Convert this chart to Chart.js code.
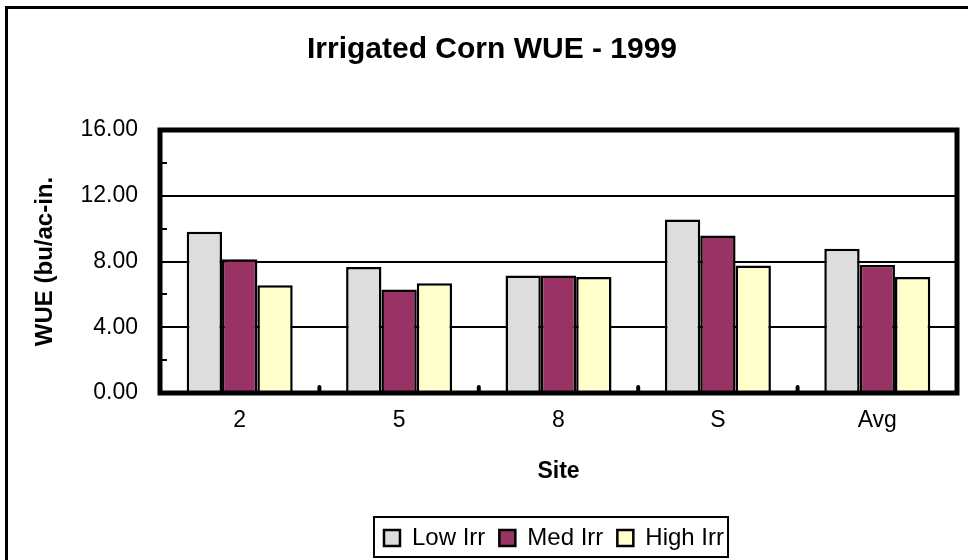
<!DOCTYPE html>
<html>
<head>
<meta charset="utf-8">
<title>Irrigated Corn WUE - 1999</title>
<script src="https://cdn.jsdelivr.net/npm/chart.js@4"></script>
<style>
  html, body { margin: 0; padding: 0; background: #fff; }
  #wrap { position: relative; width: 968px; height: 560px; }
</style>
</head>
<body>
<div id="wrap"><canvas id="wue"></canvas></div>
<script>
  const sites = ['2', '5', '8', 'S', 'Avg'];
  const lowIrr = [9.81, 7.66, 7.15, 10.55, 8.77];
  const medIrr = [8.14, 6.30, 7.15, 9.58, 7.78];
  const highIrr = [6.55, 6.67, 7.05, 7.76, 7.05];
  const yTicks = [0, 4, 8, 12, 16];
  const yMinorTicks = [2, 6, 10, 14];

  const FONT = "'Liberation Sans', Arial, sans-serif";
  const LEGEND_SHIFT = 62; // legend sits right of centre in the original

  // nudge the legend to the right after layout
  const legendShift = {
    id: 'legendShift',
    afterLayout(chart) {
      const lg = chart.legend;
      if (!lg) return;
      lg.left += LEGEND_SHIFT;
      lg.right += LEGEND_SHIFT;
      (lg.legendHitBoxes || []).forEach((b) => { b.left += LEGEND_SHIFT; });
    },
  };

  // frame round the plot, inner tick marks, legend box and the outer border
  const decorations = {
    id: 'decorations',
    afterDraw(chart) {
      const { ctx, chartArea: a, scales } = chart;
      ctx.save();
      ctx.strokeStyle = '#000';

      ctx.lineWidth = 2;
      yMinorTicks.forEach((v) => {
        const y = Math.round(scales.y.getPixelForValue(v));
        ctx.beginPath();
        ctx.moveTo(a.left, y);
        ctx.lineTo(a.left + 7, y);
        ctx.stroke();
      });

      ctx.lineWidth = 4;
      ctx.lineCap = 'round';
      for (let i = 0; i < sites.length - 1; i++) {
        const x = (scales.x.getPixelForValue(i) + scales.x.getPixelForValue(i + 1)) / 2;
        ctx.beginPath();
        ctx.moveTo(x, a.bottom);
        ctx.lineTo(x, a.bottom - 6);
        ctx.stroke();
      }
      ctx.lineCap = 'butt';

      ctx.lineWidth = 5;
      ctx.strokeRect(a.left, a.top, a.right - a.left, a.bottom - a.top);

      const boxes = chart.legend.legendHitBoxes;
      if (boxes && boxes.length) {
        const l = Math.min(...boxes.map((b) => b.left)) - 10;
        const r = Math.max(...boxes.map((b) => b.left + b.width)) + 4;
        const t = Math.min(...boxes.map((b) => b.top)) - 9;
        ctx.lineWidth = 2;
        ctx.strokeRect(l, t, r - l, 40);
      }

      ctx.lineWidth = 3;
      ctx.beginPath();
      ctx.moveTo(6.5, chart.height);
      ctx.lineTo(6.5, 7.5);
      ctx.lineTo(chart.width, 7.5);
      ctx.stroke();
      ctx.restore();
    },
  };

  const bar = (label, data, color) => ({
    label,
    data,
    backgroundColor: color,
    borderColor: '#000',
    borderWidth: 2.5,
    categoryPercentage: 0.665,
    barPercentage: 1.0,
  });

  new Chart(document.getElementById('wue'), {
    type: 'bar',
    data: {
      labels: sites,
      datasets: [
        bar('Low Irr', lowIrr, '#dddddd'),
        bar('Med Irr', medIrr, '#993366'),
        bar('High Irr', highIrr, '#ffffcc'),
      ],
    },
    options: {
      responsive: true,
      maintainAspectRatio: false,
      animation: false,
      layout: { padding: { left: 27, right: 11, top: 0, bottom: 0 } },
      plugins: {
        title: {
          display: true,
          text: 'Irrigated Corn WUE - 1999',
          color: '#000',
          font: { family: FONT, size: 30, weight: 'bold' },
          padding: { top: 32, bottom: 62 },
        },
        legend: {
          position: 'bottom',
          labels: {
            color: '#000',
            font: { family: FONT, size: 24 },
            boxWidth: 16,
            boxHeight: 16,
            padding: 14,
          },
        },
        tooltip: { enabled: false },
      },
      scales: {
        x: {
          grid: { display: false, drawTicks: false },
          border: { display: false },
          ticks: { color: '#000', font: { family: FONT, size: 23 }, padding: 14 },
          title: {
            display: true,
            text: 'Site',
            color: '#000',
            font: { family: FONT, size: 23, weight: 'bold' },
            padding: { top: 14, bottom: 27 },
          },
          afterFit(scale) { scale.height = 119; },
        },
        y: {
          min: 0,
          max: 16,
          afterBuildTicks(scale) { scale.ticks = yTicks.map((v) => ({ value: v })); },
          grid: { color: '#000', lineWidth: 2, drawTicks: false },
          border: { display: false },
          ticks: {
            color: '#000',
            font: { family: FONT, size: 23 },
            padding: 22,
            callback: (v) => Number(v).toFixed(2),
          },
          title: {
            display: true,
            text: 'WUE (bu/ac-in.',
            color: '#000',
            font: { family: FONT, size: 24, weight: 'bold' },
            padding: { top: 4, bottom: 0 },
          },
          afterFit(scale) { scale.width = 133; },
        },
      },
    },
    plugins: [legendShift, decorations],
  });
</script>
</body>
</html>
